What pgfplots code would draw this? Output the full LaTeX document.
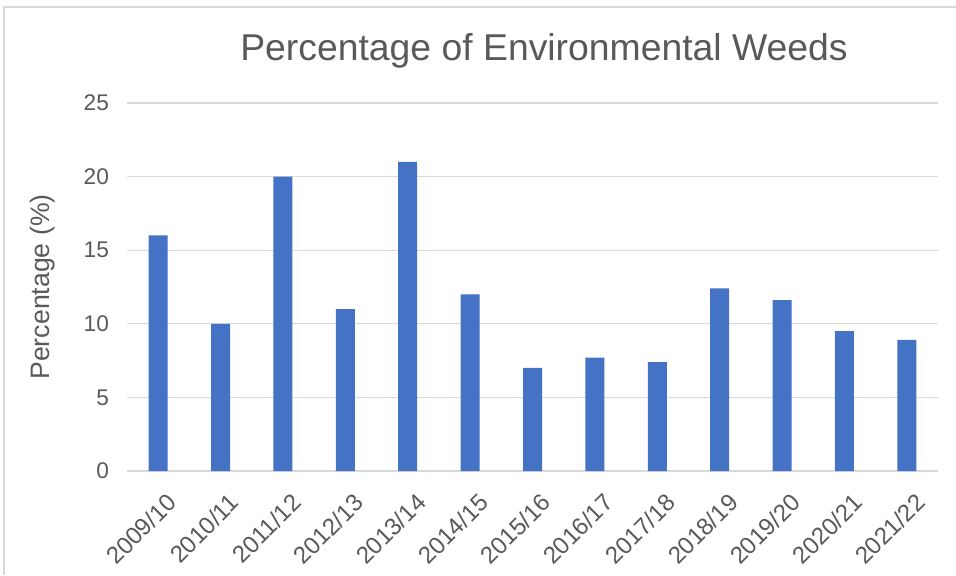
\documentclass[border=0pt]{standalone}
\usepackage{pgfplots}
\pgfplotsset{compat=1.18}
\usepackage{fontspec}
\setmainfont{Liberation Sans}
\definecolor{barblue}{HTML}{4472C4}
\definecolor{txtgray}{HTML}{595959}
\definecolor{gridgray}{HTML}{D9D9D9}
\begin{document}
\begin{tikzpicture}
\useasboundingbox (0,0) rectangle (717pt,431.25pt);
\draw[gridgray, line width=1pt] (3pt,0) -- (3pt,426pt) -- (717pt,426pt);
\node[txtgray, font=\fontsize{28}{32}\selectfont] at (408pt,393pt) {Percentage of Environmental Weeds};
\node[txtgray, rotate=90, font=\fontsize{20}{24}\selectfont] at (32pt,216pt) {Percentage (\%)};
\begin{axis}[
  at={(95.25pt,78pt)}, anchor=south west,
  scale only axis, width=608.25pt, height=276pt,
  ymin=0, ymax=25, ytick={0,5,...,25},
  xmin=-0.5, xmax=12.5,
  xtick={0,...,12},
  xticklabels={2009/10,2010/11,2011/12,2012/13,2013/14,2014/15,2015/16,2016/17,2017/18,2018/19,2019/20,2020/21,2021/22},
  x tick label style={rotate=45, anchor=north east, inner sep=1pt, yshift=-14pt, xshift=-6pt, font=\fontsize{18}{22}\selectfont},
  ymajorgrids, grid style={gridgray, line width=1pt},
  axis x line*=bottom, axis y line*=left,
  x axis line style={gridgray, line width=1pt, -},
  y axis line style={draw=none},
  major tick length=0pt,
  tick label style={txtgray, font=\fontsize{17}{20}\selectfont},
  yticklabel style={xshift=-10pt},
  /pgf/number format/assume math mode=true,
  clip=false,
]
\addplot[ybar, bar width=14.25pt, fill=barblue, draw=none] coordinates {
(0,16) (1,10) (2,20) (3,11) (4,21) (5,12) (6,7) (7,7.7) (8,7.4) (9,12.4) (10,11.6) (11,9.5) (12,8.9)
};
\end{axis}
\end{tikzpicture}
\end{document}
